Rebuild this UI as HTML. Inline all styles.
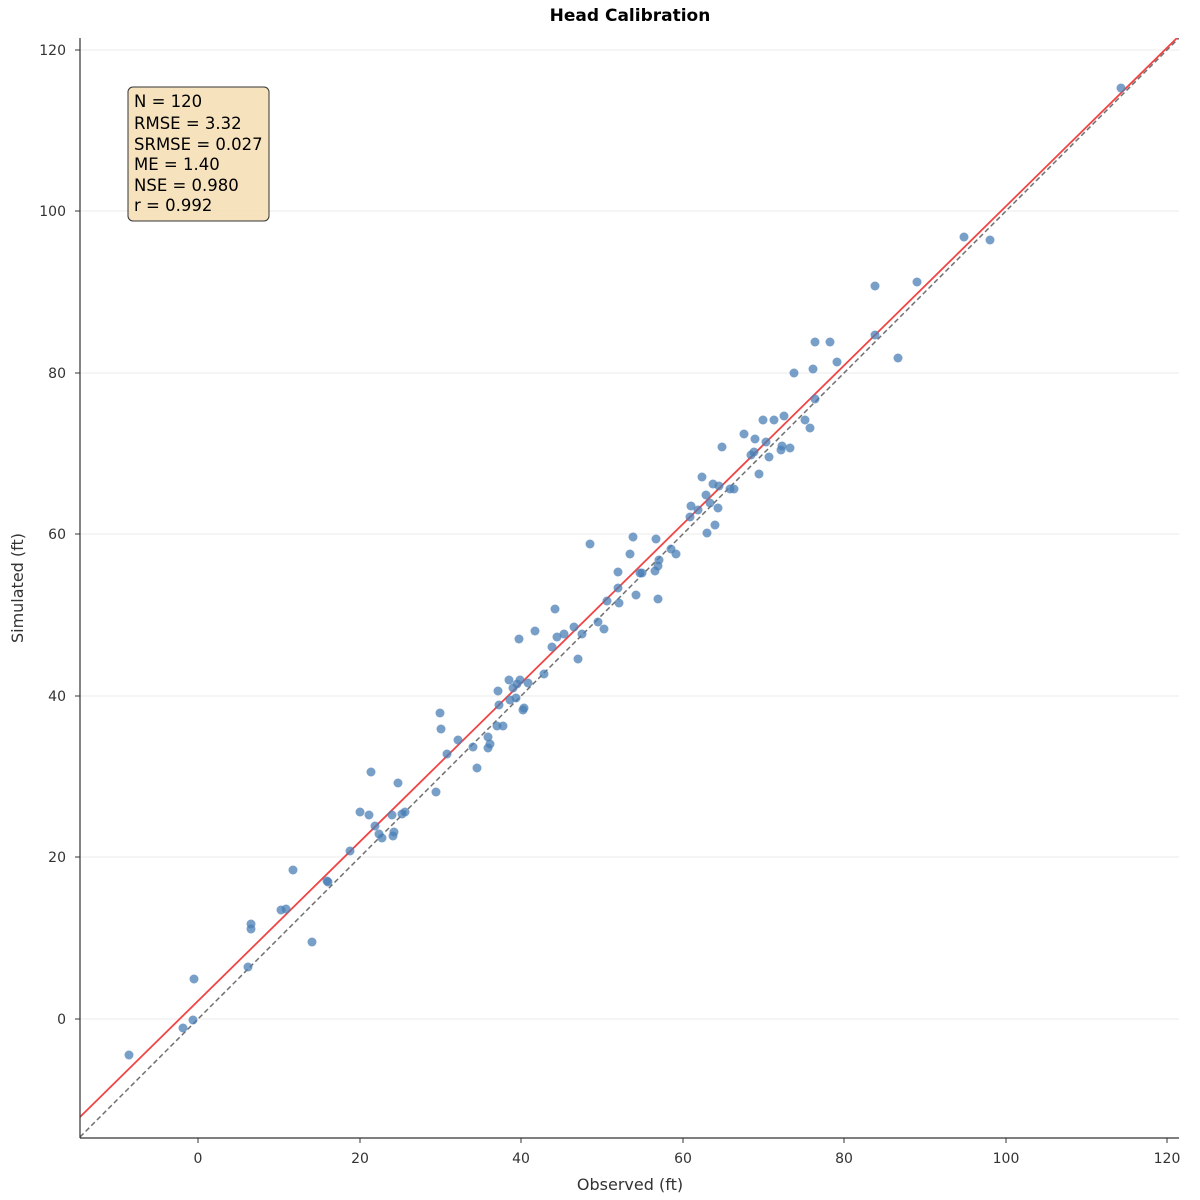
<!DOCTYPE html>
<html><head><style>body{margin:0;background:#fff}svg{display:block;font-family:"DejaVu Sans","Liberation Sans",sans-serif}</style></head><body>
<svg width="1200" height="1200" viewBox="0 0 1200 1200" xmlns="http://www.w3.org/2000/svg">
<rect width="1200" height="1200" fill="#fff"/>
<g stroke="#ebebeb" stroke-width="1">
<line x1="80" x2="1179" y1="50" y2="50"/><line x1="80" x2="1179" y1="211" y2="211"/><line x1="80" x2="1179" y1="373" y2="373"/><line x1="80" x2="1179" y1="534" y2="534"/><line x1="80" x2="1179" y1="696" y2="696"/><line x1="80" x2="1179" y1="857" y2="857"/><line x1="80" x2="1179" y1="1019" y2="1019"/>
</g>
<defs><clipPath id="c"><rect x="80" y="38" width="1099" height="1100"/></clipPath></defs>
<g clip-path="url(#c)">
<line x1="80" y1="1137" x2="1179" y2="38" stroke="#707070" stroke-width="1.5" stroke-dasharray="5,3"/>
<line x1="80" y1="1117" x2="1179" y2="36" stroke="#f04545" stroke-width="1.8"/>
</g>
<g fill="#4a7fb5" fill-opacity="0.75">
<script type="text/plain"></script>
</g>
<g id="pts" fill="#4a7fb5" fill-opacity="0.75"></g>
<g fill="#4a7fb5" fill-opacity="0.75">
<circle cx="129" cy="1055" r="4.5"/><circle cx="183" cy="1028" r="4.5"/><circle cx="193" cy="1020" r="4.5"/><circle cx="194" cy="979" r="4.5"/><circle cx="248" cy="967" r="4.5"/><circle cx="251" cy="924" r="4.5"/><circle cx="251" cy="929" r="4.5"/><circle cx="281" cy="910" r="4.5"/><circle cx="286" cy="909" r="4.5"/><circle cx="293" cy="870" r="4.5"/><circle cx="312" cy="942" r="4.5"/><circle cx="327" cy="881" r="4.5"/><circle cx="328" cy="882" r="4.5"/><circle cx="350" cy="851" r="4.5"/><circle cx="360" cy="812" r="4.5"/><circle cx="369" cy="815" r="4.5"/><circle cx="371" cy="772" r="4.5"/><circle cx="375" cy="826" r="4.5"/><circle cx="379" cy="834" r="4.5"/><circle cx="382" cy="838" r="4.5"/><circle cx="392" cy="815" r="4.5"/><circle cx="393" cy="836" r="4.5"/><circle cx="394" cy="832" r="4.5"/><circle cx="398" cy="783" r="4.5"/><circle cx="402" cy="814" r="4.5"/><circle cx="405" cy="812" r="4.5"/><circle cx="436" cy="792" r="4.5"/><circle cx="440" cy="713" r="4.5"/><circle cx="441" cy="729" r="4.5"/><circle cx="447" cy="754" r="4.5"/><circle cx="458" cy="740" r="4.5"/><circle cx="473" cy="747" r="4.5"/><circle cx="477" cy="768" r="4.5"/><circle cx="488" cy="748" r="4.5"/><circle cx="488" cy="737" r="4.5"/><circle cx="490" cy="744" r="4.5"/><circle cx="497" cy="726" r="4.5"/><circle cx="498" cy="691" r="4.5"/><circle cx="499" cy="705" r="4.5"/><circle cx="503" cy="726" r="4.5"/><circle cx="509" cy="680" r="4.5"/><circle cx="510" cy="700" r="4.5"/><circle cx="513" cy="688" r="4.5"/><circle cx="516" cy="698" r="4.5"/><circle cx="517" cy="684" r="4.5"/><circle cx="519" cy="639" r="4.5"/><circle cx="520" cy="680" r="4.5"/><circle cx="523" cy="710" r="4.5"/><circle cx="524" cy="708" r="4.5"/><circle cx="528" cy="683" r="4.5"/><circle cx="535" cy="631" r="4.5"/><circle cx="544" cy="674" r="4.5"/><circle cx="552" cy="647" r="4.5"/><circle cx="555" cy="609" r="4.5"/><circle cx="557" cy="637" r="4.5"/><circle cx="564" cy="634" r="4.5"/><circle cx="574" cy="627" r="4.5"/><circle cx="578" cy="659" r="4.5"/><circle cx="582" cy="634" r="4.5"/><circle cx="590" cy="544" r="4.5"/><circle cx="598" cy="622" r="4.5"/><circle cx="604" cy="629" r="4.5"/><circle cx="607" cy="601" r="4.5"/><circle cx="618" cy="572" r="4.5"/><circle cx="618" cy="588" r="4.5"/><circle cx="619" cy="603" r="4.5"/><circle cx="630" cy="554" r="4.5"/><circle cx="633" cy="537" r="4.5"/><circle cx="636" cy="595" r="4.5"/><circle cx="640" cy="573" r="4.5"/><circle cx="642" cy="573" r="4.5"/><circle cx="655" cy="571" r="4.5"/><circle cx="656" cy="539" r="4.5"/><circle cx="658" cy="566" r="4.5"/><circle cx="658" cy="599" r="4.5"/><circle cx="659" cy="560" r="4.5"/><circle cx="671" cy="549" r="4.5"/><circle cx="676" cy="554" r="4.5"/><circle cx="690" cy="517" r="4.5"/><circle cx="691" cy="506" r="4.5"/><circle cx="698" cy="510" r="4.5"/><circle cx="702" cy="477" r="4.5"/><circle cx="706" cy="495" r="4.5"/><circle cx="707" cy="533" r="4.5"/><circle cx="710" cy="503" r="4.5"/><circle cx="713" cy="484" r="4.5"/><circle cx="715" cy="525" r="4.5"/><circle cx="718" cy="508" r="4.5"/><circle cx="719" cy="486" r="4.5"/><circle cx="722" cy="447" r="4.5"/><circle cx="730" cy="489" r="4.5"/><circle cx="734" cy="489" r="4.5"/><circle cx="744" cy="434" r="4.5"/><circle cx="751" cy="455" r="4.5"/><circle cx="754" cy="452" r="4.5"/><circle cx="755" cy="439" r="4.5"/><circle cx="759" cy="474" r="4.5"/><circle cx="763" cy="420" r="4.5"/><circle cx="766" cy="442" r="4.5"/><circle cx="769" cy="457" r="4.5"/><circle cx="774" cy="420" r="4.5"/><circle cx="781" cy="450" r="4.5"/><circle cx="782" cy="446" r="4.5"/><circle cx="784" cy="416" r="4.5"/><circle cx="790" cy="448" r="4.5"/><circle cx="794" cy="373" r="4.5"/><circle cx="805" cy="420" r="4.5"/><circle cx="810" cy="428" r="4.5"/><circle cx="813" cy="369" r="4.5"/><circle cx="815" cy="399" r="4.5"/><circle cx="815" cy="342" r="4.5"/><circle cx="830" cy="342" r="4.5"/><circle cx="837" cy="362" r="4.5"/><circle cx="875" cy="286" r="4.5"/><circle cx="875" cy="335" r="4.5"/><circle cx="898" cy="358" r="4.5"/><circle cx="917" cy="282" r="4.5"/><circle cx="964" cy="237" r="4.5"/><circle cx="990" cy="240" r="4.5"/><circle cx="1121" cy="88" r="4.5"/>
</g>
<g stroke="#333" stroke-width="1.2">
<line x1="80" y1="38" x2="80" y2="1138"/><line x1="80" y1="1138" x2="1179" y2="1138"/>
</g>
<g stroke="#333" stroke-width="1">
<line x1="198" x2="198" y1="1138" y2="1143"/><line x1="360" x2="360" y1="1138" y2="1143"/><line x1="521" x2="521" y1="1138" y2="1143"/><line x1="683" x2="683" y1="1138" y2="1143"/><line x1="844" x2="844" y1="1138" y2="1143"/><line x1="1006" x2="1006" y1="1138" y2="1143"/><line x1="1167" x2="1167" y1="1138" y2="1143"/>
<line x1="75" x2="80" y1="50" y2="50"/><line x1="75" x2="80" y1="211" y2="211"/><line x1="75" x2="80" y1="373" y2="373"/><line x1="75" x2="80" y1="534" y2="534"/><line x1="75" x2="80" y1="696" y2="696"/><line x1="75" x2="80" y1="857" y2="857"/><line x1="75" x2="80" y1="1019" y2="1019"/>
</g>
<g font-size="14" fill="#333" text-anchor="middle">
<text x="198" y="1163">0</text><text x="360" y="1163">20</text><text x="521" y="1163">40</text><text x="683" y="1163">60</text><text x="844" y="1163">80</text><text x="1006" y="1163">100</text><text x="1167" y="1163">120</text>
</g>
<g font-size="14" fill="#333" text-anchor="end">
<text x="66" y="55">120</text><text x="66" y="216">100</text><text x="66" y="378">80</text><text x="66" y="539">60</text><text x="66" y="701">40</text><text x="66" y="862">20</text><text x="66" y="1024">0</text>
</g>
<text x="630" y="21" font-size="17" font-weight="bold" text-anchor="middle">Head Calibration</text>
<text x="630" y="1190" font-size="16" fill="#333" text-anchor="middle">Observed (ft)</text>
<text x="23" y="588" font-size="16" fill="#333" text-anchor="middle" transform="rotate(-90 23 588)">Simulated (ft)</text>
<rect x="128" y="87" width="141" height="134" rx="5" fill="#f5deb3" fill-opacity="0.85" stroke="#333" stroke-width="1"/>
<g font-size="16.5" fill="#000">
<text x="134" y="107">N = 120</text><text x="134" y="129">RMSE = 3.32</text><text x="134" y="150">SRMSE = 0.027</text><text x="134" y="170">ME = 1.40</text><text x="134" y="191">NSE = 0.980</text><text x="134" y="211">r = 0.992</text>
</g>
</svg>
</body></html>
